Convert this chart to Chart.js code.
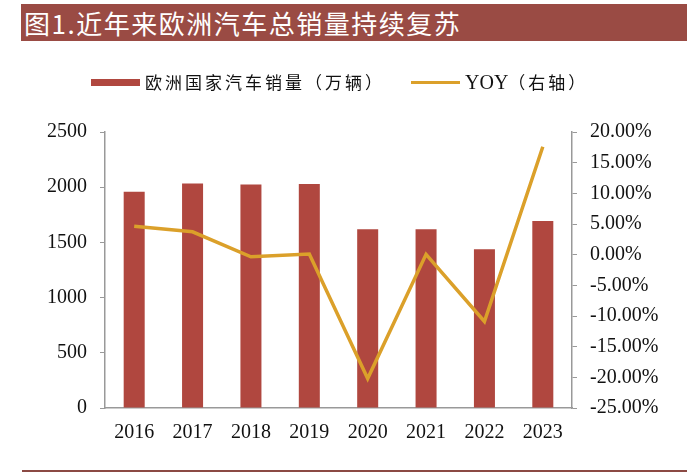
<!DOCTYPE html>
<html>
<head>
<meta charset="utf-8">
<script src="https://cdn.jsdelivr.net/npm/chart.js@4"></script>
<style>
  body { margin: 0; background: #fff; }
  #wrap { position: relative; width: 687px; height: 475px; overflow: hidden; }
  #title {
    position: absolute; left: 21px; top: 4px; width: 666px; height: 37px;
    background: #9a4b44; color: #fff;
    font-family: "Noto Sans CJK SC", sans-serif; font-size: 26px; line-height: 37px;
    padding-left: 3px; box-sizing: border-box; letter-spacing: 1.5px;
  }
  #legend {
    position: absolute; top: 68px; left: 0; width: 687px; height: 28px;
    font-family: "Noto Sans CJK SC", "Liberation Serif", sans-serif; font-size: 17px; color: #111;
  }
  .item { position: absolute; top: 0; height: 28px; line-height: 28px; white-space: nowrap; letter-spacing: 3px; }
  .swatch { position: absolute; }
  #bottomline { position: absolute; left: 22px; top: 470px; width: 665px; height: 2px; background: #8b4a44; }
  canvas { position: absolute; left: 0; top: 0; }
</style>
</head>
<body>
<div id="wrap">
  <div id="title">图1.近年来欧洲汽车总销量持续复苏</div>
  <canvas id="chart" width="687" height="475"></canvas>
  <div id="legend">
    <div class="swatch" style="left:91px;top:11px;width:49px;height:7px;background:#b0473f"></div>
    <div class="item" style="left:145px">欧洲国家汽车销量（万辆）</div>
    <div class="swatch" style="left:411px;top:13px;width:49px;height:3px;background:#dba02a"></div>
    <div class="item" style="left:465px"><span style="font-family:'Liberation Serif';font-size:20px;letter-spacing:0">YOY</span>（右轴）</div>
  </div>
  <div id="bottomline"></div>
</div>
<script>
var years = ["2016", "2017", "2018", "2019", "2020", "2021", "2022", "2023"];
var sales = [1958, 2034, 2025, 2030, 1618, 1618, 1437, 1693];
var yoy = [4.65, 3.73, -0.34, 0.1, -20.2, 0.05, -10.9, 17.6];

var tickFont = { family: "Liberation Serif", size: 20 };

var ctx = document.getElementById("chart");
var myChart = new Chart(ctx, {
    type: 'bar',
    data: {
        labels: years,
        datasets: [{
            type: 'line',
            label: 'YOY（右轴）',
            data: yoy,
            yAxisID: 'y1',
            borderColor: '#dba02a',
            backgroundColor: '#dba02a',
            borderWidth: 3.5,
            pointRadius: 0,
            tension: 0,
            order: 0
        }, {
            label: '欧洲国家汽车销量（万辆）',
            data: sales,
            yAxisID: 'y',
            backgroundColor: '#b0473f',
            barPercentage: 0.36,
            categoryPercentage: 1,
            order: 1
        }]
    },
    options: {
        responsive: false,
        animation: false,
        layout: { padding: { top: 132, left: 0, right: 0, bottom: 0 } },
        plugins: { legend: { display: false }, tooltip: { enabled: false } },
        scales: {
            x: {
                grid: { display: false, drawTicks: false },
                border: { color: '#999', width: 1.5 },
                ticks: { color: '#111', font: tickFont, padding: 13, maxRotation: 0 },
                afterFit: function (s) { s.height = 67; }
            },
            y: {
                position: 'left',
                min: 0, max: 2500,
                grid: { display: true, drawOnChartArea: false, tickLength: 5, color: '#999' },
                border: { color: '#999', width: 1.5 },
                ticks: {
                    stepSize: 500, color: '#111', font: tickFont, padding: 13,
                    callback: function (v) { return String(v); }
                },
                afterFit: function (s) { s.width = 105; }
            },
            y1: {
                position: 'right',
                min: -25, max: 20,
                grid: { display: true, drawOnChartArea: false, tickLength: 5, color: '#999' },
                border: { color: '#999', width: 1.5 },
                ticks: {
                    stepSize: 5, color: '#111', font: tickFont, padding: 13,
                    callback: function (v) { return v.toFixed(2) + '%'; }
                },
                afterFit: function (s) { s.width = 115; }
            }
        }
    }
});
</script>
</body>
</html>
